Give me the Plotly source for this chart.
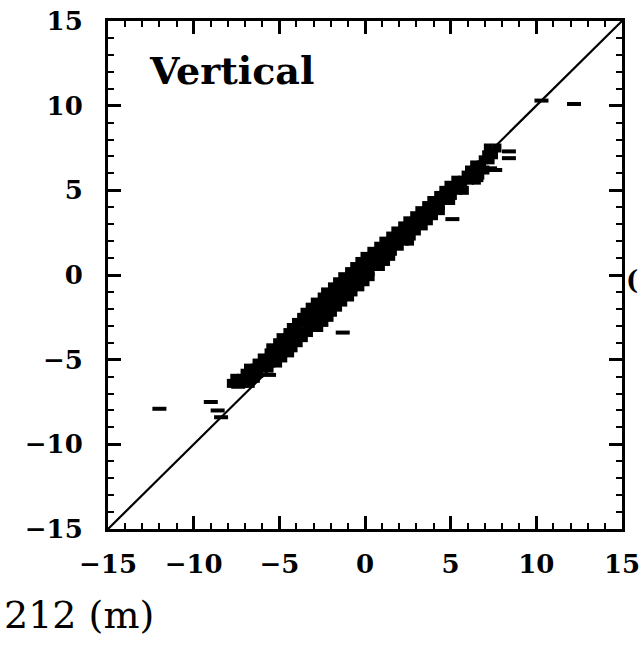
import plotly.graph_objects as go

# ---- data ----
band_x = [
    -7.8, -7.5, -7.1, -6.7,
    -7.6, -7.2, -6.8, -6.4,
    -7.0, -6.6, -6.2,
    -6.8, -6.4, -6.0, -5.6,
    -6.3, -5.9, -5.5, -5.1,
    -6.0, -5.6, -5.2, -4.8,
    -5.6, -5.2, -4.8, -4.4,
    -5.5, -5.0, -4.6, -4.2,
    -5.1, -4.7, -4.3, -3.9,
    -4.9, -4.5, -4.1, -3.6,
    -4.5, -4.1, -3.7, -3.3,
    -4.3, -3.9, -3.4, -3.0, -2.7,
    -4.0, -3.6, -3.2, -2.8, -2.4,
    -3.7, -3.3, -2.9, -2.5, -2.1,
    -3.5, -3.1, -2.7, -2.3, -1.9,
    -3.2, -2.8, -2.4, -2.0, -1.6,
    -2.9, -2.5, -2.1, -1.7, -1.3,
    -2.5, -2.1, -1.7, -1.3, -0.9,
    -2.3, -1.9, -1.5, -1.1, -0.7,
    -1.9, -1.5, -1.1, -0.7, -0.3,
    -1.6, -1.2, -0.8, -0.4, 0.0,
    -1.3, -0.9, -0.5, -0.1, 0.3,
    -0.9, -0.5, -0.1, 0.3,
    -0.6, -0.2, 0.2, 0.6, 0.9,
    -0.3, 0.1, 0.5, 0.9, 1.2,
    0.0, 0.4, 0.8, 1.2, 1.5,
    0.4, 0.8, 1.2, 1.6,
    0.8, 1.2, 1.6, 2.0,
    1.1, 1.5, 1.9, 2.3, 2.6,
    1.5, 1.9, 2.3, 2.7,
    1.8, 2.2, 2.6, 3.0,
    2.2, 2.6, 3.0, 3.4,
    2.5, 2.9, 3.3, 3.7,
    2.9, 3.3, 3.7, 4.0,
    3.2, 3.6, 4.0, 4.4,
    3.6, 4.0, 4.4,
    3.9, 4.3, 4.7, 5.0,
    4.3, 4.7, 5.1,
    4.6, 5.0, 5.4, 5.8,
    4.9, 5.3, 5.7,
    5.3, 5.7, 6.1, 6.5,
    5.9, 6.3, 6.7,
    6.1, 6.5, 7.0,
    6.4, 6.8,
    6.9, 7.3,
    7.1, 7.5,
    7.2, 7.7,
]
band_y = [
    -6.4, -6.4, -6.4, -6.4,
    -6.1, -6.1, -6.1, -6.1,
    -5.8, -5.8, -5.8,
    -5.5, -5.5, -5.5, -5.5,
    -5.2, -5.2, -5.2, -5.2,
    -4.9, -4.9, -4.9, -4.9,
    -4.6, -4.6, -4.6, -4.6,
    -4.3, -4.3, -4.3, -4.3,
    -4.0, -4.0, -4.0, -4.0,
    -3.7, -3.7, -3.7, -3.7,
    -3.4, -3.4, -3.4, -3.4,
    -3.1, -3.1, -3.1, -3.1, -3.1,
    -2.8, -2.8, -2.8, -2.8, -2.8,
    -2.5, -2.5, -2.5, -2.5, -2.5,
    -2.2, -2.2, -2.2, -2.2, -2.2,
    -1.9, -1.9, -1.9, -1.9, -1.9,
    -1.6, -1.6, -1.6, -1.6, -1.6,
    -1.3, -1.3, -1.3, -1.3, -1.3,
    -1.0, -1.0, -1.0, -1.0, -1.0,
    -0.7, -0.7, -0.7, -0.7, -0.7,
    -0.4, -0.4, -0.4, -0.4, -0.4,
    -0.1, -0.1, -0.1, -0.1, -0.1,
    0.2, 0.2, 0.2, 0.2,
    0.5, 0.5, 0.5, 0.5, 0.5,
    0.8, 0.8, 0.8, 0.8, 0.8,
    1.1, 1.1, 1.1, 1.1, 1.1,
    1.4, 1.4, 1.4, 1.4,
    1.7, 1.7, 1.7, 1.7,
    2.0, 2.0, 2.0, 2.0, 2.0,
    2.3, 2.3, 2.3, 2.3,
    2.6, 2.6, 2.6, 2.6,
    2.9, 2.9, 2.9, 2.9,
    3.2, 3.2, 3.2, 3.2,
    3.5, 3.5, 3.5, 3.5,
    3.8, 3.8, 3.8, 3.8,
    4.1, 4.1, 4.1,
    4.4, 4.4, 4.4, 4.4,
    4.7, 4.7, 4.7,
    5.0, 5.0, 5.0, 5.0,
    5.3, 5.3, 5.3,
    5.6, 5.6, 5.6, 5.6,
    5.9, 5.9, 5.9,
    6.2, 6.2, 6.2,
    6.5, 6.5,
    6.8, 6.8,
    7.1, 7.1,
    7.5, 7.5,
]

outlier_x = [12.2, 10.3, -12.0, -9.0, -8.6, -8.4, -1.3, 8.4, 8.4, 7.6, 5.1, 6.5, 7.3, -5.6, -7.4]
outlier_y = [10.1, 10.3, -7.9, -7.5, -8.0, -8.4, -3.4, 7.3, 6.9, 6.2, 3.3, 5.6, 6.3, -5.9, -6.6]

line_x = [-15, 15]
line_y = [-15, 15]

tick_vals = [-15, -10, -5, 0, 5, 10, 15]

fig = go.Figure()
fig.add_trace(go.Scatter(x=line_x, y=line_y, mode="lines",
                         line=dict(color="black", width=2.2), showlegend=False))
fig.add_trace(go.Scatter(x=band_x, y=band_y, mode="markers",
                         marker=dict(symbol="square", size=9, color="black"),
                         showlegend=False))
fig.add_trace(go.Scatter(x=outlier_x, y=outlier_y, mode="markers",
                         marker=dict(symbol="line-ew", size=10, color="black",
                                     line=dict(color="black", width=4)),
                         showlegend=False))

tickfont = dict(family="DejaVu Serif", size=26, color="black", weight="bold")
axis_common = dict(
    range=[-15, 15], tickvals=tick_vals, ticks="inside", ticklen=13, tickwidth=3,
    tickcolor="black", showline=True, linewidth=3, linecolor="black", mirror="ticks",
    showgrid=False, zeroline=False, tickfont=tickfont, automargin=False,
    minor=dict(dtick=1, ticks="inside", ticklen=6, tickwidth=2, tickcolor="black"),
)
fig.update_xaxes(**axis_common, ticklabelstandoff=10)
fig.update_yaxes(**axis_common, ticklabelstandoff=17)

fig.add_annotation(x=-12.75, y=12.05, xref="x", yref="y", text="Vertical",
                   showarrow=False, xanchor="left", yanchor="middle",
                   font=dict(family="DejaVu Serif", size=38, color="black", weight="bold"))
fig.add_annotation(x=-0.206, y=-0.169, xref="paper", yref="paper", text="212 (m)",
                   showarrow=False, xanchor="left", yanchor="middle",
                   font=dict(family="DejaVu Serif", size=38, color="black"))
fig.add_annotation(x=1.035, y=0.49, xref="paper", yref="paper", text="(",
                   showarrow=False, xanchor="right", yanchor="middle",
                   font=dict(family="DejaVu Serif", size=26, color="black", weight="bold"))

fig.update_layout(
    width=641, height=646,
    margin=dict(l=108, r=19, t=21, b=117),
    plot_bgcolor="white", paper_bgcolor="white",
)

fig.write_html("out.html")
